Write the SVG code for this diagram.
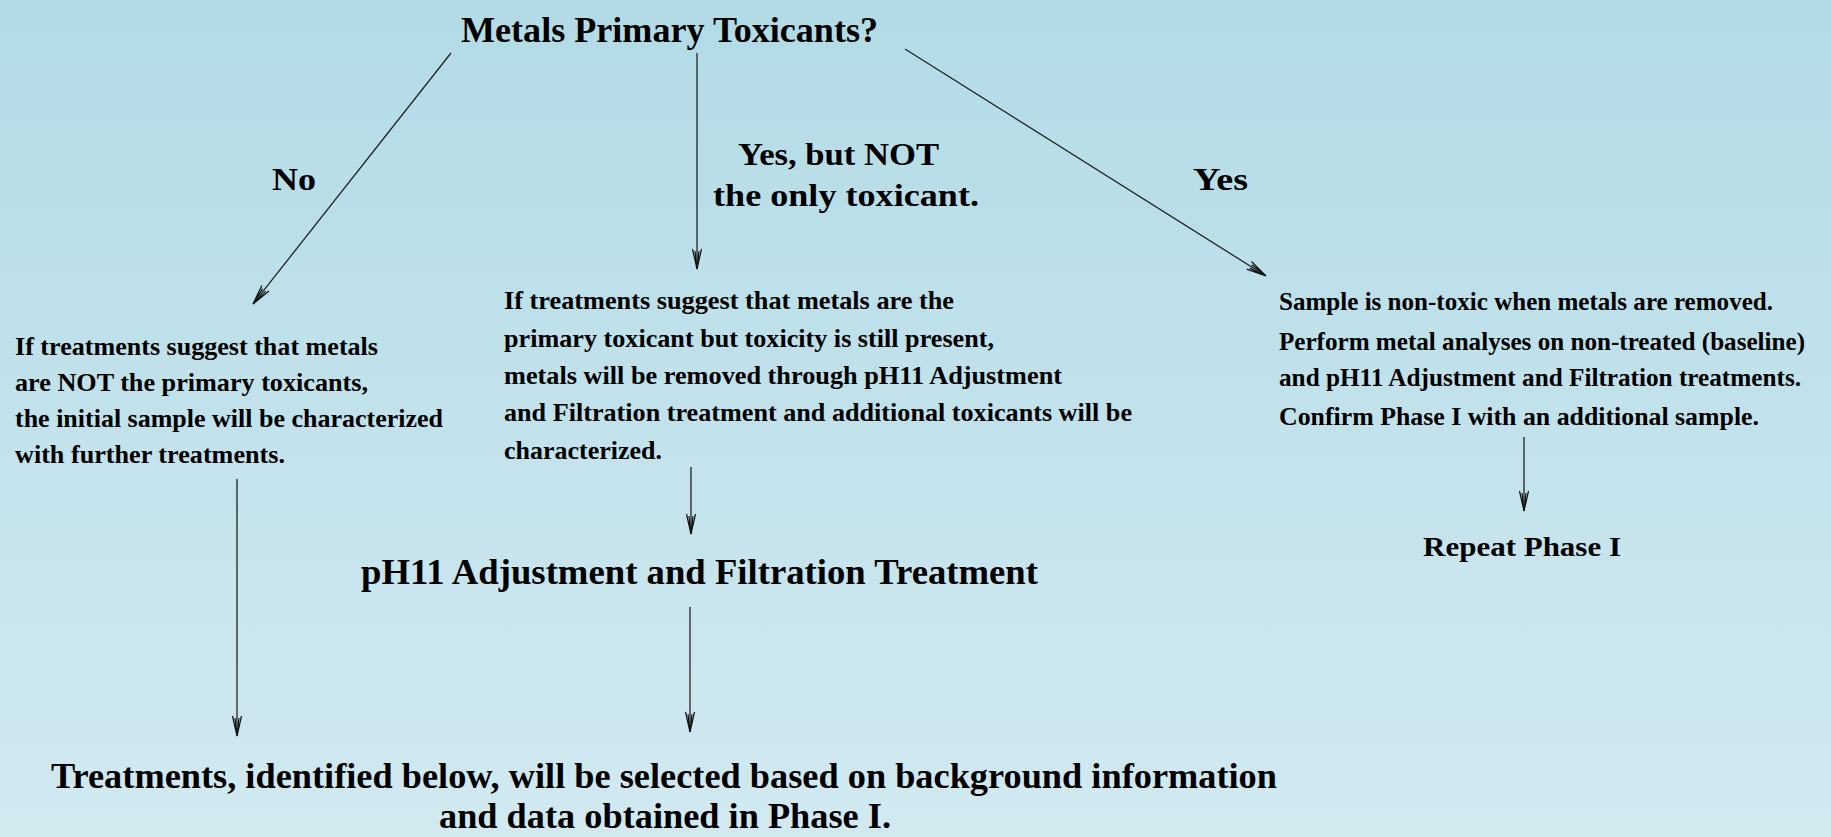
<svg xmlns="http://www.w3.org/2000/svg" width="1831" height="837" viewBox="0 0 1831 837">
  <defs>
    <linearGradient id="bg" x1="0" y1="0" x2="0" y2="1">
      <stop offset="0" stop-color="#b2dbe6"/>
      <stop offset="1" stop-color="#d2e9f0"/>
    </linearGradient>
    <marker id="arrow" viewBox="-22 -7 24 14" refX="0" refY="0" markerWidth="24" markerHeight="14" markerUnits="userSpaceOnUse" orient="auto">
      <path d="M-20,-4.5 L0,0 L-20,4.5 M-18,-2 L0,0 L-18,2" fill="none" stroke="#111" stroke-width="1.2"/>
    </marker>
    <style>
      text { font-family: "Liberation Serif", "Times New Roman", serif; font-weight: bold; fill: #000; }
      .head { font-size: 36px; }
      .label { font-size: 32px; }
      .body { font-size: 26px; }
      .sub { font-size: 28px; }
      .link { stroke: #222; stroke-width: 1.3; fill: none; marker-end: url(#arrow); }
    </style>
  </defs>

  <rect width="1831" height="837" fill="url(#bg)"/>

  <g id="connectors">
    <line class="link" x1="451" y1="53" x2="253" y2="304"/>
    <line class="link" x1="697" y1="53" x2="697" y2="269"/>
    <line class="link" x1="905" y1="49" x2="1266" y2="276"/>
    <line class="link" x1="1524" y1="437" x2="1524" y2="511"/>
    <line class="link" x1="691" y1="467" x2="691" y2="534"/>
    <line class="link" x1="690" y1="607" x2="690" y2="732"/>
    <line class="link" x1="237" y1="479" x2="237" y2="736"/>
  </g>

  <g id="question">
    <text class="head" x="461" y="42" textLength="417" lengthAdjust="spacingAndGlyphs">Metals Primary Toxicants?</text>
  </g>

  <g id="label-no">
    <text class="label" x="272" y="190" textLength="44" lengthAdjust="spacingAndGlyphs">No</text>
  </g>

  <g id="label-partial">
    <text class="label" x="738" y="165" textLength="201" lengthAdjust="spacingAndGlyphs">Yes, but NOT</text>
    <text class="label" x="713" y="206" textLength="266" lengthAdjust="spacingAndGlyphs">the only toxicant.</text>
  </g>

  <g id="label-yes">
    <text class="label" x="1193" y="190" textLength="55" lengthAdjust="spacingAndGlyphs">Yes</text>
  </g>

  <g id="not-primary">
    <text class="body" x="15" y="355" textLength="363" lengthAdjust="spacingAndGlyphs">If treatments suggest that metals</text>
    <text class="body" x="15" y="391" textLength="353" lengthAdjust="spacingAndGlyphs">are NOT the primary toxicants,</text>
    <text class="body" x="15" y="427" textLength="428" lengthAdjust="spacingAndGlyphs">the initial sample will be characterized</text>
    <text class="body" x="15" y="463" textLength="270" lengthAdjust="spacingAndGlyphs">with further treatments.</text>
  </g>

  <g id="not-only">
    <text class="body" x="504" y="309" textLength="450" lengthAdjust="spacingAndGlyphs">If treatments suggest that metals are the</text>
    <text class="body" x="504" y="347" textLength="490" lengthAdjust="spacingAndGlyphs">primary toxicant but toxicity is still present,</text>
    <text class="body" x="504" y="384" textLength="558" lengthAdjust="spacingAndGlyphs">metals will be removed through pH11 Adjustment</text>
    <text class="body" x="504" y="421" textLength="628" lengthAdjust="spacingAndGlyphs">and Filtration treatment and additional toxicants will be</text>
    <text class="body" x="504" y="459" textLength="158" lengthAdjust="spacingAndGlyphs">characterized.</text>
  </g>

  <g id="non-toxic">
    <text class="body" x="1279" y="310" textLength="494" lengthAdjust="spacingAndGlyphs">Sample is non-toxic when metals are removed.</text>
    <text class="body" x="1279" y="350" textLength="526" lengthAdjust="spacingAndGlyphs">Perform metal analyses on non-treated (baseline)</text>
    <text class="body" x="1279" y="386" textLength="522" lengthAdjust="spacingAndGlyphs">and pH11 Adjustment and Filtration treatments.</text>
    <text class="body" x="1279" y="425" textLength="480" lengthAdjust="spacingAndGlyphs">Confirm Phase I with an additional sample.</text>
  </g>

  <g id="repeat">
    <text class="sub" x="1423" y="556" textLength="198" lengthAdjust="spacingAndGlyphs">Repeat Phase I</text>
  </g>

  <g id="ph11">
    <text class="head" x="361" y="584" textLength="677" lengthAdjust="spacingAndGlyphs">pH11 Adjustment and Filtration Treatment</text>
  </g>

  <g id="next-treatments">
    <text class="head" x="51" y="788" textLength="1226" lengthAdjust="spacingAndGlyphs">Treatments, identified below, will be selected based on background information</text>
    <text class="head" x="439" y="828" textLength="452" lengthAdjust="spacingAndGlyphs">and data obtained in Phase I.</text>
  </g>
</svg>
